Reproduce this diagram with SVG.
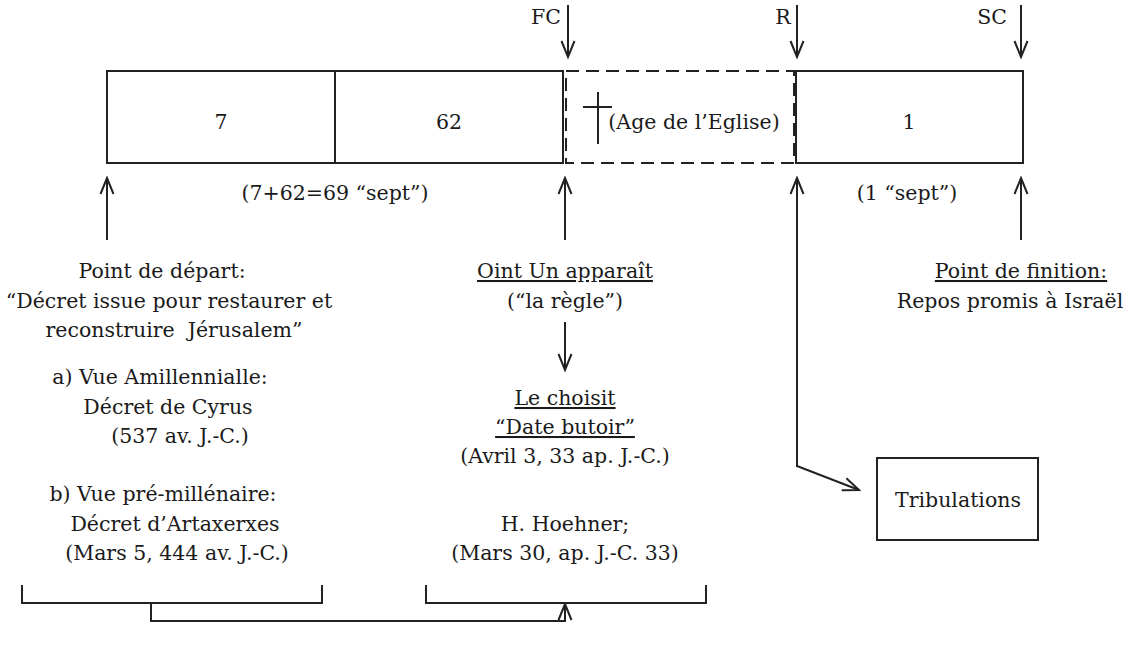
<svg xmlns="http://www.w3.org/2000/svg" width="1129" height="648" viewBox="0 0 1129 648">
<style>
text{font-family:"DejaVu Serif","Liberation Serif",serif;font-size:20.5px;fill:#1a1a1a;text-anchor:middle;white-space:pre}
.u{text-decoration:underline}
.ln{fill:none;stroke:#222;stroke-width:2}
.dash{fill:none;stroke:#222;stroke-width:2;stroke-dasharray:13,7}
</style>
<defs>
<marker id="ah" viewBox="0 0 20 20" refX="18" refY="10" markerWidth="20" markerHeight="20" markerUnits="userSpaceOnUse" orient="auto">
<path d="M2,3.5 L18,10 L2,16.5" fill="none" stroke="#222" stroke-width="2"/>
</marker>
</defs>
<rect width="1129" height="648" fill="#fff"/>
<g id="box7"><rect class="ln" x="107" y="71" width="228" height="92"/><text x="221" y="129">7</text></g>
<g id="box62"><rect class="ln" x="335" y="71" width="228" height="92"/><text x="449" y="129">62</text></g>
<g id="boxEglise"><rect class="dash" x="566" y="71" width="228" height="92"/>
<line class="ln" x1="598" y1="92" x2="598" y2="144"/><line class="ln" x1="583" y1="107" x2="612" y2="107"/>
<text x="694" y="129">(Age de l’Eglise)</text></g>
<g id="box1"><rect class="ln" x="796" y="71" width="227" height="92"/><text x="909" y="129">1</text></g>
<g id="labels">
<text x="546" y="24">FC</text>
<text x="783" y="24">R</text>
<text x="992" y="24">SC</text>
<text x="335" y="200">(7+62=69 “sept”)</text>
<text x="907" y="200">(1 “sept”)</text>
</g>
<g id="depart">
<text x="162" y="278">Point de départ:</text>
<text x="169" y="308">“Décret issue pour restaurer et</text>
<text x="174" y="337">reconstruire  Jérusalem”</text>
<text x="160" y="384">a) Vue Amillennialle:</text>
<text x="168" y="414">Décret de Cyrus</text>
<text x="180" y="443">(537 av. J.-C.)</text>
<text x="163" y="501">b) Vue pré-millénaire:</text>
<text x="175" y="531">Décret d’Artaxerxes</text>
<text x="177" y="560">(Mars 5, 444 av. J.-C.)</text>
</g>
<g id="oint">
<text class="u" x="565" y="278">Oint Un apparaît</text>
<text x="565" y="308">(“la règle”)</text>
<text class="u" x="565" y="405">Le choisit</text>
<text class="u" x="565" y="434">“Date butoir”</text>
<text x="565" y="463">(Avril 3, 33 ap. J.-C.)</text>
<text x="565" y="531">H. Hoehner;</text>
<text x="565" y="560">(Mars 30, ap. J.-C. 33)</text>
</g>
<g id="finition">
<text class="u" x="1021" y="278">Point de finition:</text>
<text x="1010" y="308">Repos promis à Israël</text>
</g>
<g id="tribulations"><rect class="ln" x="877" y="458" width="161" height="82"/><text x="958" y="507">Tribulations</text></g>
<g id="connectors">
<line class="ln" x1="568" y1="5" x2="568" y2="57" marker-end="url(#ah)"/>
<line class="ln" x1="797" y1="5" x2="797" y2="57" marker-end="url(#ah)"/>
<line class="ln" x1="1021" y1="5" x2="1021" y2="57" marker-end="url(#ah)"/>
<line class="ln" x1="107" y1="240" x2="107" y2="178" marker-end="url(#ah)"/>
<line class="ln" x1="565" y1="240" x2="565" y2="178" marker-end="url(#ah)"/>
<line class="ln" x1="1021" y1="240" x2="1021" y2="178" marker-end="url(#ah)"/>
<line class="ln" x1="797" y1="467" x2="797" y2="178" marker-end="url(#ah)"/>
<path class="ln" d="M797,466 L859,490" marker-end="url(#ah)"/>
<line class="ln" x1="565" y1="322" x2="565" y2="370" marker-end="url(#ah)"/>
<path class="ln" d="M22,585 L22,603 L322,603 L322,585"/>
<path class="ln" d="M426,585 L426,603 L706,603 L706,585"/>
<path class="ln" d="M151,603 L151,621 L565,621 L565,604" marker-end="url(#ah)"/>
</g>
</svg>
